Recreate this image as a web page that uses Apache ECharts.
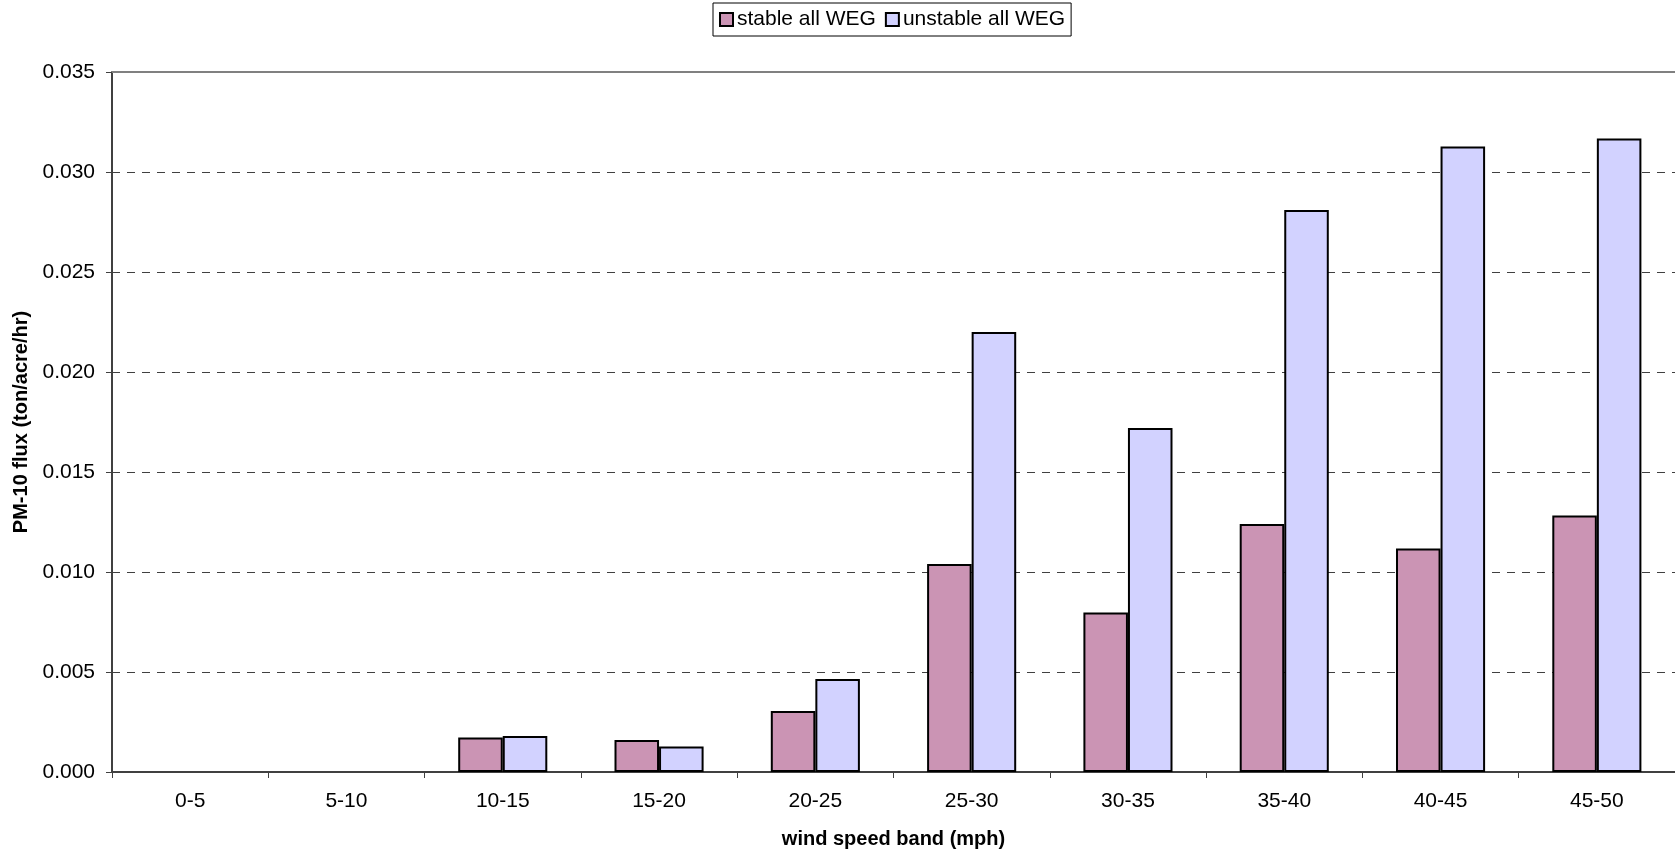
<!DOCTYPE html>
<html>
<head>
<meta charset="utf-8">
<script src="https://cdn.jsdelivr.net/npm/echarts@6/dist/echarts.min.js"></script>
<style>
html,body{margin:0;padding:0;background:#fff;}
#chart{width:1675px;height:854px;}
</style>
</head>
<body>
<div id="chart"></div>
<script>
var categories = ['0-5','5-10','10-15','15-20','20-25','25-30','30-35','35-40','40-45','45-50'];
var stableValues = [0, 0, 0.00172, 0.0016, 0.00305, 0.0104, 0.00797, 0.0124, 0.01118, 0.01282];
var unstableValues = [0, 0, 0.0018, 0.00127, 0.00465, 0.0220, 0.0172, 0.0281, 0.03127, 0.03168];
var seriesNames = ['stable all WEG', 'unstable all WEG'];
var yTicks = [0, 0.005, 0.01, 0.015, 0.02, 0.025, 0.03, 0.035];

function toBarData(values) {
  return values.map(function (v) {
    return v === 0 ? {value: v, itemStyle: {borderWidth: 0}} : v;
  });
}

var font = 'Liberation Sans, Arial, sans-serif';
var chart = echarts.init(document.getElementById('chart'), null, {renderer:'canvas'});
chart.setOption({
  animation: false,
  backgroundColor: '#ffffff',
  textStyle: {fontFamily: font},
  legend: {
    top: 3,
    left: 713,
    data: seriesNames,
    borderColor: '#000',
    borderWidth: 1,
    padding: [6, 6, 6, 6],
    itemWidth: 13,
    itemHeight: 13,
    itemGap: 9,
    icon: 'rect',
    textStyle: {fontFamily: font, fontSize: 21, color: '#000', padding: [0,0,0,-1]}
  },
  grid: {left: 112, top: 72, width: 1565, height: 700},
  xAxis: [{
    type: 'category',
    data: categories,
    position: 'bottom',
    name: 'wind speed band (mph)',
    nameLocation: 'middle',
    nameGap: 57,
    nameTextStyle: {fontFamily: font, fontSize: 20, fontWeight: 'bold', color: '#000'},
    axisLine: {lineStyle: {color: '#404040', width: 2}},
    axisTick: {show: true, length: 6, lineStyle: {color: '#404040', width: 1}},
    axisLabel: {fontFamily: font, fontSize: 21, color: '#000', margin: 19},
    splitLine: {show: false}
  }, {
    type: 'category',
    data: categories,
    position: 'top',
    axisLine: {show: true, lineStyle: {color: '#808080', width: 2}},
    axisTick: {show: false},
    axisLabel: {show: false}
  }],
  yAxis: {
    type: 'value',
    min: yTicks[0],
    max: yTicks[yTicks.length - 1],
    interval: 0.005,
    name: 'PM-10 flux (ton/acre/hr)',
    nameLocation: 'middle',
    nameGap: 80,
    nameRotate: 90,
    nameTextStyle: {fontFamily: font, fontSize: 20, fontWeight: 'bold', color: '#000'},
    axisLine: {show: true, lineStyle: {color: '#404040', width: 2}},
    axisTick: {show: true, length: 6, lineStyle: {color: '#404040', width: 1}},
    axisLabel: {fontFamily: font, fontSize: 21, color: '#000', margin: 17,
      formatter: function(v){ return v.toFixed(3); }},
    splitLine: {show: true, lineStyle: {color: '#404040', width: 1, type: [8, 7]}}
  },
  series: [{
    name: seriesNames[0],
    type: 'bar',
    data: toBarData(stableValues),
    barGap: '0%',
    barCategoryGap: '43%',
    itemStyle: {color: '#CB94B4', borderColor: '#000', borderWidth: 2}
  }, {
    name: seriesNames[1],
    type: 'bar',
    data: toBarData(unstableValues),
    barGap: '0%',
    barCategoryGap: '43%',
    itemStyle: {color: '#D2D2FF', borderColor: '#000', borderWidth: 2}
  }]
});
</script>
</body>
</html>
